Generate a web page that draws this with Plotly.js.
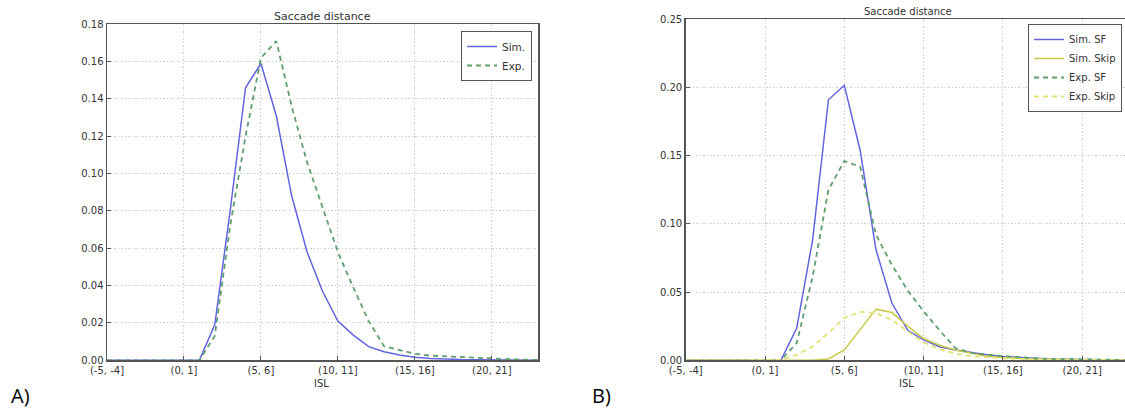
<!DOCTYPE html>
<html><head><meta charset="utf-8">
<script src="https://cdn.plot.ly/plotly-3.0.1.min.js"></script>
<style>html,body{margin:0;padding:0;background:#fff}#chart{width:1125px;height:410px}</style>
</head><body><div id="chart"></div>
<script>
const categories = ["(-5, -4]","(-4, -3]","(-3, -2]","(-2, -1]","(-1, 0]","(0, 1]","(1, 2]","(2, 3]","(3, 4]","(4, 5]",
  "(5, 6]","(6, 7]","(7, 8]","(8, 9]","(9, 10]","(10, 11]","(11, 12]","(12, 13]","(13, 14]","(14, 15]",
  "(15, 16]","(16, 17]","(17, 18]","(18, 19]","(19, 20]","(20, 21]","(21, 22]","(22, 23]","(23, 24]"];
const tickLabels = ["(-5, -4]","(0, 1]","(5, 6]","(10, 11]","(15, 16]","(20, 21]"];

// Panel A
const simA = [0,0,0,0,0,0,0,0.019,0.08,0.146,0.159,0.131,0.088,0.058,0.037,0.021,0.0135,0.0073,0.0046,0.0028,0.0016,0.001,0.0006,0.0004,0.0003,0.0002,0.0001,0.0001,0];
const expA = [0,0,0,0,0,0,0,0.013,0.072,0.12,0.162,0.171,0.136,0.106,0.082,0.058,0.039,0.021,0.0075,0.0055,0.0035,0.0025,0.0022,0.002,0.0015,0.001,0.0006,0.0003,0.0002];

// Panel B
const simSF = [0,0,0,0,0,0,0,0.0235,0.088,0.191,0.2016,0.154,0.081,0.042,0.022,0.015,0.010,0.0075,0.0056,0.004,0.0027,0.002,0.0015,0.001,0.0007,0.0005,0.0003,0.0002,0.0001];
const simSkip = [0,0,0,0,0,0,0,0,0,0.001,0.0076,0.0225,0.0375,0.035,0.025,0.016,0.011,0.0075,0.005,0.003,0.002,0.0012,0.0008,0.0005,0.0003,0.0002,0.0001,0.0001,0];
const expSF = [0,0,0,0,0,0,0,0.0127,0.061,0.125,0.146,0.142,0.092,0.070,0.051,0.036,0.022,0.009,0.0055,0.004,0.003,0.002,0.0015,0.001,0.0008,0.0005,0.0004,0.0003,0.0002];
const expSkip = [0,0,0,0,0,0,0.0003,0.004,0.010,0.020,0.031,0.0356,0.0345,0.0295,0.021,0.013,0.008,0.005,0.003,0.002,0.0015,0.001,0.0008,0.0005,0.0003,0.0002,0.0001,0.0001,0];

const cBlue = '#6464e0', cGreen = '#5f9f6f', cYel = '#c8c84a', cYelL = '#e2e27a';
const dash = '5px,4px';

const traces = [
  {x: categories, y: simA, name: 'Sim.', type: 'scatter', mode: 'lines', line: {color: cBlue, width: 1.5}, xaxis: 'x', yaxis: 'y', legend: 'legend'},
  {x: categories, y: expA, name: 'Exp.', type: 'scatter', mode: 'lines', line: {color: cGreen, width: 1.8, dash: dash}, xaxis: 'x', yaxis: 'y', legend: 'legend'},
  {x: categories, y: simSF, name: 'Sim. SF', type: 'scatter', mode: 'lines', line: {color: cBlue, width: 1.5}, xaxis: 'x2', yaxis: 'y2', legend: 'legend2'},
  {x: categories, y: simSkip, name: 'Sim. Skip', type: 'scatter', mode: 'lines', line: {color: cYel, width: 1.5}, xaxis: 'x2', yaxis: 'y2', legend: 'legend2'},
  {x: categories, y: expSF, name: 'Exp. SF', type: 'scatter', mode: 'lines', line: {color: cGreen, width: 1.8, dash: dash}, xaxis: 'x2', yaxis: 'y2', legend: 'legend2'},
  {x: categories, y: expSkip, name: 'Exp. Skip', type: 'scatter', mode: 'lines', line: {color: cYelL, width: 1.8, dash: dash}, xaxis: 'x2', yaxis: 'y2', legend: 'legend2'}
];

const W = 1125, H = 410;
const px = v => v / W, py = v => 1 - v / H;
const tf = {family: 'DejaVu Sans', size: 10, color: '#333'};
const xCommon = {
  type: 'category', categoryorder: 'array', categoryarray: categories,
  tickmode: 'array', tickvals: tickLabels, ticktext: tickLabels,
  showgrid: true, gridcolor: '#cfcfcf', griddash: '1.5px,2px', gridwidth: 1,
  showline: true, mirror: true, linecolor: '#555', linewidth: 1.5,
  ticks: 'inside', ticklen: 4, tickcolor: '#555', tickfont: tf, zeroline: false
};
const yCommon = {
  showgrid: true, gridcolor: '#cfcfcf', griddash: '1.5px,2px', gridwidth: 1,
  showline: true, mirror: true, linecolor: '#555', linewidth: 1.5,
  ticks: 'inside', ticklen: 4, tickcolor: '#555', tickfont: tf, zeroline: false,
  tickformat: '.2f'
};

const layout = {
  width: W, height: H,
  margin: {l: 0, r: 0, t: 0, b: 0},
  paper_bgcolor: '#fff', plot_bgcolor: '#fff',
  showlegend: true,
  xaxis: Object.assign({}, xCommon, {domain: [px(107), px(538)], range: [0, 28], anchor: 'y'}),
  yaxis: Object.assign({}, yCommon, {domain: [py(360.3), py(24.3)], range: [0, 0.18], dtick: 0.02, anchor: 'x'}),
  xaxis2: Object.assign({}, xCommon, {domain: [px(685.7), 1], range: [0, 27.7], anchor: 'y2'}),
  yaxis2: Object.assign({}, yCommon, {domain: [py(360.3), py(19.3)], range: [0, 0.25], dtick: 0.05, anchor: 'x2'}),
  legend: {x: px(532), y: py(31), xanchor: 'right', yanchor: 'top', bgcolor: '#fff', bordercolor: '#555', borderwidth: 1,
           font: {family: 'DejaVu Sans', size: 10.5, color: '#333'}, tracegroupgap: 0, itemwidth: 30},
  legend2: {x: px(1122), y: py(24), xanchor: 'right', yanchor: 'top', bgcolor: '#fff', bordercolor: '#555', borderwidth: 1,
           font: {family: 'DejaVu Sans', size: 10, color: '#333'}, tracegroupgap: 0, itemwidth: 30},
  annotations: [
    {text: 'Saccade distance', x: px(322.5), y: py(16), xref: 'paper', yref: 'paper', showarrow: false, xanchor: 'center', yanchor: 'middle', font: {family: 'DejaVu Sans', size: 11, color: '#333'}},
    {text: 'Saccade distance', x: px(907.5), y: py(11), xref: 'paper', yref: 'paper', showarrow: false, xanchor: 'center', yanchor: 'middle', font: {family: 'DejaVu Sans', size: 10, color: '#333'}},
    {text: 'ISL', x: px(321.7), y: py(383), xref: 'paper', yref: 'paper', showarrow: false, xanchor: 'center', yanchor: 'middle', font: {family: 'DejaVu Sans', size: 10, color: '#333'}},
    {text: 'ISL', x: px(906.7), y: py(383), xref: 'paper', yref: 'paper', showarrow: false, xanchor: 'center', yanchor: 'middle', font: {family: 'DejaVu Sans', size: 10, color: '#333'}},
    {text: 'A)', x: px(9), y: py(395), xref: 'paper', yref: 'paper', showarrow: false, xanchor: 'left', yanchor: 'middle', font: {family: 'Open Sans', size: 20, color: '#000'}},
    {text: 'B)', x: px(590), y: py(395), xref: 'paper', yref: 'paper', showarrow: false, xanchor: 'left', yanchor: 'middle', font: {family: 'Open Sans', size: 20, color: '#000'}}
  ]
};

Plotly.newPlot('chart', traces, layout, {staticPlot: true, displayModeBar: false});
</script>
</body></html>
